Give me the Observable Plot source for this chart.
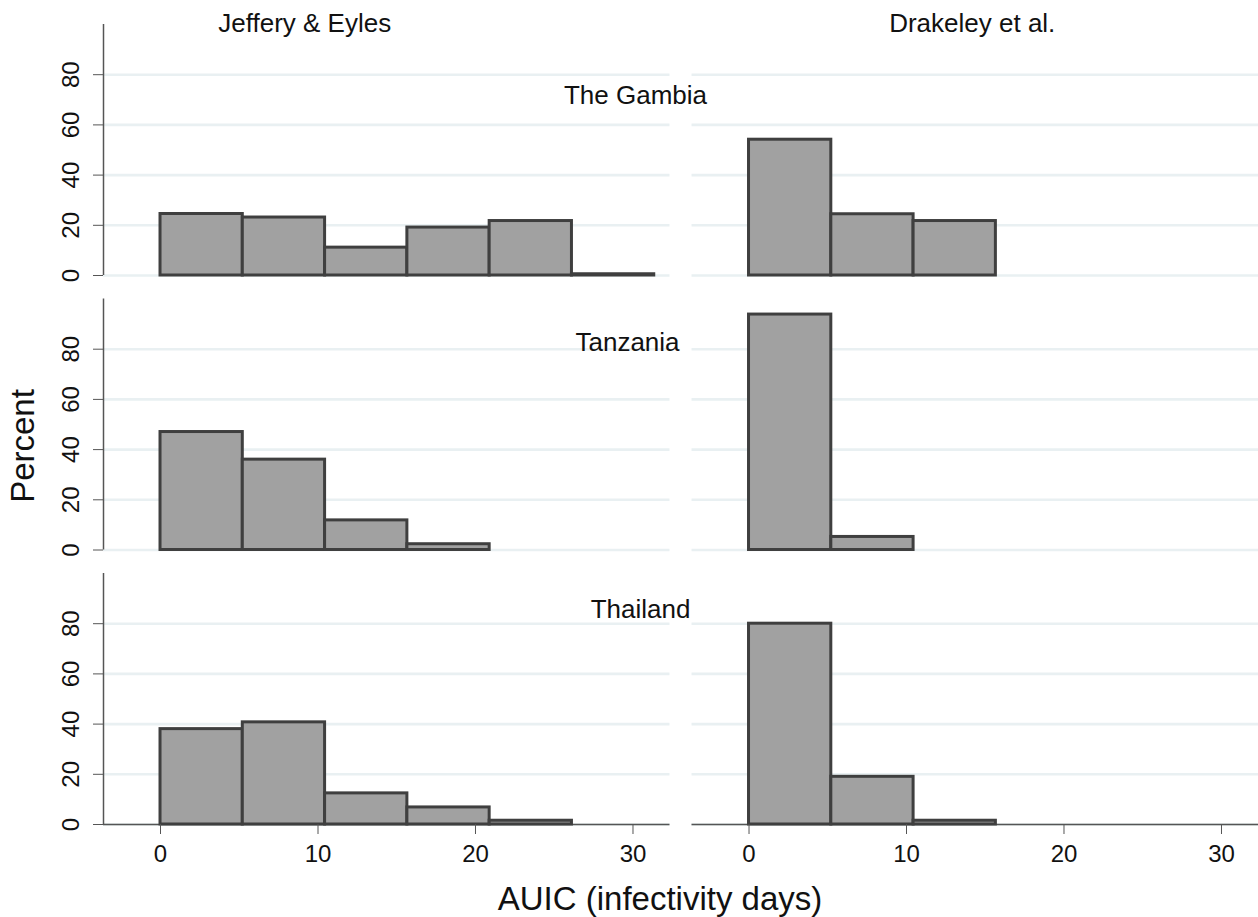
<!DOCTYPE html>
<html>
<head>
<meta charset="utf-8">
<script src="https://cdn.jsdelivr.net/npm/d3@7"></script>
<script src="https://cdn.jsdelivr.net/npm/@observablehq/plot@0.6"></script>
<style>
  html, body { margin: 0; padding: 0; background: #fff; }
  #chart { width: 1258px; height: 917px; }
</style>
</head>
<body>
<div id="chart"></div>
<script>
// ---- data ----
const rows = ["The Gambia", "Tanzania", "Thailand"];
const cols = ["Jeffery & Eyles", "Drakeley et al."];
const binEdges = [0, 5.225, 10.45, 15.675, 20.9, 26.125, 31.35];
const jeGambia   = [24.5, 23.1, 11.1, 19.1, 21.7, 0.5];
const jeTanzania = [47.0, 36.0, 11.8, 2.3];
const jeThailand = [38.0, 40.7, 12.4, 6.8, 1.5];
const dkGambia   = [54.1, 24.4, 21.7];
const dkTanzania = [93.8, 5.2];
const dkThailand = [80.0, 19.0, 1.5];
const yTicks = [0, 20, 40, 60, 80];
const xTicks = [0, 10, 20, 30];
const xTitle = "AUIC (infectivity days)";
const yTitle = "Percent";

// ---- tables ----
const series = [
  {col: cols[0], row: rows[0], values: jeGambia},
  {col: cols[0], row: rows[1], values: jeTanzania},
  {col: cols[0], row: rows[2], values: jeThailand},
  {col: cols[1], row: rows[0], values: dkGambia},
  {col: cols[1], row: rows[1], values: dkTanzania},
  {col: cols[1], row: rows[2], values: dkThailand}
];
const bars = series.flatMap(s => s.values.map((v, i) => ({
  col: s.col, row: s.row, x1: binEdges[i], x2: binEdges[i + 1], pct: v
})));
const yLabelData = rows.flatMap(r => yTicks.map(v => ({col: cols[0], row: r, v})));
const yAxisLine = rows.map(r => ({col: cols[0], row: r}));
const xAxisLine = cols.map(c => ({col: c, row: rows[2]}));

// layout (pixels)
const xDomain = [-3.62, 32.35];
const font = "'Liberation Sans', Arial, Helvetica, sans-serif";
const colTitleDx = [-82, -3];
const rowLabelOffsets = [{dx: -34.5, dy: 70.7}, {dx: -42.5, dy: 43.2}, {dx: -29.5, dy: 35.7}];

const dark = "#3f3f3f";

const marks = [
  Plot.ruleY(yTicks, {stroke: "#e9f0f2", strokeWidth: 2.6}),
  Plot.ruleY(xAxisLine, {fx: "col", fy: "row", y: () => 0, stroke: "#555", strokeWidth: 1.5}),
  Plot.ruleX(yAxisLine, {fx: "col", fy: "row", x: () => xDomain[0], y1: () => 0, y2: () => 100, stroke: "#555", strokeWidth: 1.5}),
  Plot.rect(bars, {
    fx: "col", fy: "row", x1: "x1", x2: "x2", y1: () => 0, y2: "pct",
    fill: "#a1a1a1", stroke: dark, strokeWidth: 3, inset: 0
  }),
  Plot.axisY({ticks: yTicks, tickSize: 10, fill: "none", stroke: "#555", label: null}),
  Plot.text(yLabelData, {
    fx: "col", fy: "row", y: "v", text: d => String(d.v), frameAnchor: "left",
    dx: -32, rotate: -90, fontSize: 24, textAnchor: "middle", lineAnchor: "middle", fill: "#111"
  }),
  Plot.axisX({ticks: xTicks, tickSize: 10, tickPadding: 10, fontSize: 24, stroke: "#555", fill: "#111", label: null}),
  ...cols.map((c, i) => Plot.text([{col: c, row: rows[0], t: c}], {
    fx: "col", fy: "row", text: "t", frameAnchor: "top", dx: colTitleDx[i], dy: -1.3,
    fontSize: 26, textAnchor: "middle", lineAnchor: "middle", fill: "#111"
  })),
  ...rows.map((r, i) => Plot.text([{col: cols[0], row: r, t: r}], {
    fx: "col", fy: "row", text: "t", frameAnchor: "top-right",
    dx: rowLabelOffsets[i].dx, dy: rowLabelOffsets[i].dy,
    fontSize: 26, textAnchor: "middle", lineAnchor: "middle", fill: "#111"
  }))
];

const chart = Plot.plot({
  width: 1258,
  height: 917,
  marginLeft: 103,
  marginRight: 0,
  marginTop: 24,
  marginBottom: 93,
  style: {fontFamily: font, fontSize: "24px", background: "white", color: "#111"},
  fx: {domain: cols, axis: null, paddingInner: 0.0374, paddingOuter: 0, round: false},
  fy: {domain: rows, axis: null, paddingInner: 0.0856, paddingOuter: 0, round: false},
  x: {domain: xDomain},
  y: {domain: [0, 100]},
  marks
});

document.getElementById("chart").appendChild(chart);

const svg = d3.select(chart);
svg.append("text")
  .attr("transform", "translate(22,446) rotate(-90)")
  .attr("text-anchor", "middle")
  .attr("dy", "0.35em")
  .attr("font-family", font)
  .attr("font-size", 33)
  .attr("fill", "#111")
  .text(yTitle);
svg.append("text")
  .attr("x", 660)
  .attr("y", 910)
  .attr("text-anchor", "middle")
  .attr("font-family", font)
  .attr("font-size", 33)
  .attr("fill", "#111")
  .text(xTitle);
</script>
</body>
</html>
